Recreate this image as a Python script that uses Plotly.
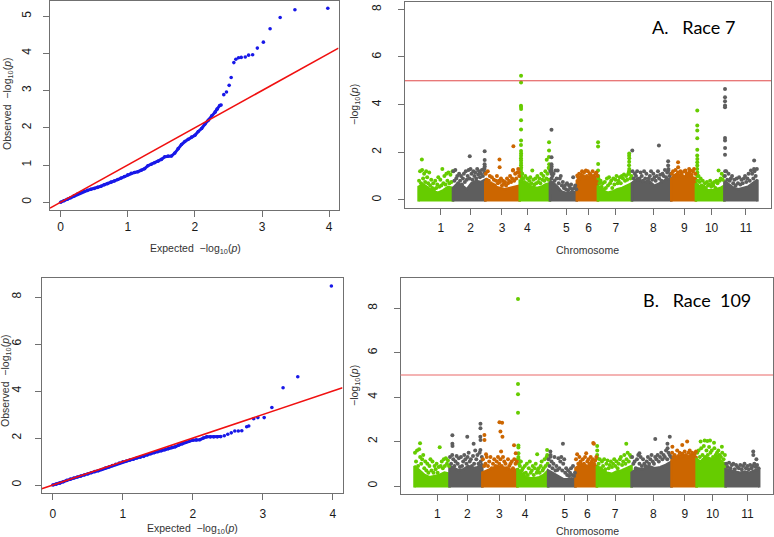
import plotly.graph_objects as go

W, H = 774, 537

# ---------------- QQ plot data (expected vs observed -log10 p) ----------------
qqA_exp = [0.0, 0.05, 0.1, 0.15, 0.2, 0.25, 0.3, 0.35, 0.4, 0.45, 0.5, 0.55, 0.6, 0.65, 0.7,
           0.75, 0.8, 0.85, 0.9, 0.95, 1.0, 1.05, 1.1, 1.15, 1.2, 1.25, 1.3, 1.35, 1.4, 1.45,
           1.5, 1.55, 1.6, 1.65, 1.7, 1.75, 1.8, 1.85, 1.9, 1.95, 2.0, 2.05, 2.1, 2.15, 2.2,
           2.25, 2.3, 2.33, 2.37, 2.39,
           2.43, 2.47, 2.51, 2.54, 2.58, 2.61, 2.65, 2.69, 2.75, 2.80, 2.86, 2.93, 3.02, 3.12,
           3.27, 3.49, 3.98]
qqA_obs = [0.0, 0.04, 0.08, 0.12, 0.17, 0.22, 0.26, 0.3, 0.32, 0.35, 0.37, 0.4, 0.43, 0.47, 0.5,
           0.54, 0.57, 0.61, 0.65, 0.69, 0.74, 0.78, 0.8, 0.82, 0.86, 0.9, 0.98, 1.02, 1.06, 1.1,
           1.15, 1.22, 1.24, 1.24, 1.32, 1.44, 1.55, 1.63, 1.69, 1.75, 1.8, 1.9, 1.98, 2.1, 2.2,
           2.32, 2.42, 2.5, 2.6, 2.61,
           2.89, 2.96, 3.14, 3.35, 3.75, 3.84, 3.88, 3.89, 3.9, 3.95, 3.96, 4.14, 4.30, 4.66,
           4.96, 5.17, 5.21]

qqB_exp = [0.0, 0.05, 0.1, 0.15, 0.2, 0.25, 0.3, 0.35, 0.4, 0.45, 0.5, 0.55, 0.6, 0.65, 0.7,
           0.75, 0.8, 0.85, 0.9, 0.95, 1.0, 1.05, 1.1, 1.15, 1.2, 1.25, 1.3, 1.35, 1.4, 1.45,
           1.5, 1.55, 1.6, 1.65, 1.7, 1.75, 1.8, 1.85, 1.9, 1.95, 2.0, 2.05, 2.1, 2.15, 2.2,
           2.25, 2.3, 2.35, 2.4, 2.45,
           2.5, 2.55, 2.6, 2.65, 2.7, 2.77, 2.80, 2.87, 2.93, 3.02, 3.13, 3.29, 3.50, 3.98]
qqB_obs = [0.0, 0.04, 0.08, 0.14, 0.2, 0.25, 0.3, 0.34, 0.38, 0.43, 0.47, 0.52, 0.57, 0.61, 0.66,
           0.72, 0.77, 0.83, 0.88, 0.94, 0.99, 1.02, 1.06, 1.1, 1.15, 1.18, 1.22, 1.28, 1.33, 1.38,
           1.42, 1.46, 1.5, 1.55, 1.6, 1.63, 1.7, 1.76, 1.82, 1.87, 1.91, 1.92, 1.93, 2.0, 2.05,
           2.05, 2.05, 2.05, 2.06, 2.1,
           2.16, 2.22, 2.3, 2.3, 2.31, 2.48, 2.51, 2.82, 2.87, 2.87, 3.30, 4.14, 4.61, 8.47]
qq_dense_limit = 2.4   # expected value up to which points overlap into a solid line

# ---------------- Manhattan data ----------------
chrom_names = ["1", "2", "3", "4", "5", "6", "7", "8", "9", "10", "11"]
chrom_len = [52.2, 49.0, 52.3, 45.8, 40.8, 32.0, 51.7, 59.6, 37.4, 43.2, 50.2]   # Mb
tick_pos = [34.0, 78.9, 126.6, 165.1, 224.4, 257.9, 299.3, 356.4, 403.2, 444.6, 496.8]  # cumulative Mb
threshold = 5

# Race 7: top of the dense SNP cloud along each chromosome, scattered SNPs (left->right) and peaks
cloudA = [
    [0.55, 0.65, 0.5, 0.35, 0.3, 0.4, 0.55, 0.5],
    [0.5, 0.7, 0.6, 0.45, 0.7, 0.8, 0.75, 0.85],
    [0.8, 0.65, 0.55, 0.5, 0.45, 0.5, 0.55, 0.6],
    [0.8, 0.75, 0.6, 0.55, 0.5, 0.55, 0.65, 0.7],
    [0.8, 0.7, 0.55, 0.35, 0.3, 0.3, 0.35, 0.3],
    [0.8, 0.95, 1.0, 0.9, 0.95, 1.0, 0.9, 0.85],
    [0.6, 0.4, 0.3, 0.35, 0.45, 0.5, 0.6, 0.7],
    [0.7, 0.9, 0.75, 0.8, 0.6, 0.7, 0.85, 0.9],
    [0.9, 1.05, 1.1, 0.95, 1.0, 1.1, 0.95, 0.9],
    [0.7, 0.55, 0.45, 0.4, 0.4, 0.45, 0.5, 0.6],
    [0.8, 0.65, 0.5, 0.45, 0.5, 0.55, 0.7, 0.85],
]
bgA = [
    [0.8, 1.2, 0.7, 1.25, 0.9, 1.1, 0.75, 1.2, 0.95, 0.7, 1.15, 0.6, 0.85, 0.5, 0.7, 0.45, 0.8, 0.5, 0.65, 0.95, 0.55, 0.85, 0.6, 1.3, 0.7, 1.0, 0.65, 1.1, 0.8, 1.15, 0.7, 1.05, 0.75, 1.2],
    [1.2, 0.8, 1.25, 0.9, 1.0, 0.7, 1.1, 0.8, 1.0, 0.65, 0.9, 1.1, 0.75, 1.2, 0.85, 1.0, 1.25, 0.9, 1.3, 1.1, 0.85, 1.2, 1.0, 1.15, 0.9, 1.3, 1.05, 1.2, 0.95, 1.1, 1.25, 1.0, 1.3, 1.15],
    [1.1, 0.85, 1.2, 0.8, 1.0, 0.7, 0.95, 0.65, 0.85, 0.6, 0.8, 1.0, 0.7, 0.8, 0.75, 0.9, 0.6, 0.8, 0.7, 0.75, 0.6, 0.9, 0.7, 0.8, 1.0, 0.75, 0.9, 1.25, 0.8, 1.1, 0.9, 1.15, 1.3, 1.0],
    [1.0, 0.8, 1.1, 0.9, 0.75, 1.0, 0.7, 0.9, 0.65, 0.8, 0.95, 0.7, 1.23, 0.85, 0.65, 0.9, 0.7, 1.0, 0.75, 0.9, 0.7, 1.1, 0.85, 1.0, 0.8, 1.2, 0.9, 1.1, 0.85, 1.3],
    [1.2, 0.9, 1.0, 1.1, 0.8, 1.23, 0.9, 1.23, 0.7, 0.9, 1.0, 0.6, 0.75, 0.5, 0.6, 0.45, 0.7, 0.4, 0.6, 0.5, 0.65, 0.45, 0.95, 0.5, 0.6, 0.45],
    [1.02, 0.95, 1.1, 0.9, 1.05, 1.2, 1.0, 1.15, 0.95, 1.23, 1.0, 1.2, 0.95, 1.1, 1.05, 0.97, 1.2, 1.0, 0.95, 1.1, 1.15, 1.0],
    [0.9, 0.7, 0.8, 0.55, 0.7, 0.45, 0.75, 0.5, 0.9, 0.6, 0.95, 0.7, 0.8, 0.5, 0.9, 0.65, 0.85, 1.0, 0.7, 0.8, 0.95, 0.7, 1.0, 0.9, 1.07, 0.8, 1.0, 0.85, 1.1, 1.2, 0.9, 1.0],
    [1.2, 0.9, 1.1, 1.0, 1.2, 0.85, 0.9, 1.15, 1.0, 0.8, 1.2, 0.9, 1.1, 0.75, 0.9, 1.0, 1.2, 0.85, 1.1, 0.95, 0.8, 1.0, 1.2, 0.9, 1.05, 0.8, 1.1, 1.0, 1.25, 0.95, 1.15, 1.3, 1.0, 1.1],
    [1.1, 1.2, 1.0, 1.25, 1.05, 1.15, 1.0, 1.2, 1.1, 0.98, 1.2, 1.23, 1.1, 1.0, 1.15, 1.23, 1.05, 1.2, 1.3, 1.1],
    [1.1, 0.8, 1.0, 0.75, 0.9, 0.6, 0.8, 0.55, 0.7, 0.5, 0.75, 0.6, 0.65, 0.8, 0.55, 0.7, 0.6, 0.75, 0.5, 0.8, 0.7, 1.23, 0.8, 0.9, 1.1, 0.85, 1.0],
    [1.0, 1.2, 0.85, 1.1, 0.8, 0.9, 1.0, 0.7, 0.85, 0.6, 0.9, 0.7, 0.95, 0.65, 0.85, 0.7, 0.9, 1.0, 0.75, 0.9, 1.1, 0.8, 1.23, 1.1, 0.9, 1.2, 1.0, 1.3],
]
peakA_chr = [1,
             2, 2, 2, 2, 2, 2,
             3, 3, 3, 3, 3,
             4, 4, 4, 4, 4, 4, 4, 4, 4, 4, 4, 4, 4, 4, 4, 4, 4, 4, 4, 4, 4,
             4, 4, 4, 4, 4, 4,
             5, 5, 5, 5, 5, 5, 5,
             7, 7, 7, 7, 7, 7, 7, 7, 7, 7, 7, 7, 7,
             8, 8, 8, 8, 8,
             9, 9, 9,
             10, 10, 10, 10, 10, 10, 10, 10, 10, 10, 10, 10,
             11, 11, 11, 11, 11, 11, 11, 11, 11, 11, 11, 11]
peakA_pos = [5.0,
             25.5, 48.1, 48.1, 48.0, 48.2, 47.9,
             21.6, 21.8, 42.7, 42.0, 50.8,
             2.0, 2.0, 1.9, 2.0, 2.1, 2.0, 2.0, 2.0, 1.9, 2.0, 2.1, 2.0, 1.9, 2.0, 2.1, 2.0, 2.2, 1.9, 2.3, 2.0, 2.4,
             41.0, 44.5, 44.5, 44.3, 44.6, 44.0,
             2.4, 2.5, 2.4, 2.6, 2.4, 2.5, 2.3,
             0.3, 0.3, 0.4, 0.3, 0.5, 47.5, 47.4, 47.6, 47.5, 47.3, 47.6, 47.5, 47.2,
             0.5, 40.9, 54.9, 54.9, 55.1,
             10.4, 10.5, 27.1,
             2.1, 2.1, 2.1, 2.1, 2.1, 2.0, 2.2, 2.1, 2.1, 2.0, 2.2, 2.1,
             1.0, 1.0, 1.0, 1.0, 1.0, 1.0, 1.0, 1.1, 1.0, 1.2, 45.2, 45.0]
peakA_val = [1.69,
             1.83, 2.04, 1.67, 1.5, 1.4, 1.3,
             1.69, 1.37, 2.25, 1.23, 1.16,
             5.21, 4.93, 3.95, 3.9, 3.82, 3.34, 2.95, 2.49, 2.3, 2.05, 1.95, 1.85, 1.75, 1.65, 1.55, 1.45, 1.35, 1.25, 1.15, 1.05, 0.95,
             1.68, 2.42, 2.07, 1.8, 1.5, 1.35,
             2.94, 1.79, 1.5, 1.4, 1.3, 1.2, 1.1,
             2.42, 2.24, 1.51, 1.23, 1.0, 1.95, 1.85, 1.75, 1.6, 1.45, 1.3, 1.2, 1.1,
             2.07, 2.28, 1.62, 1.44, 1.23,
             1.58, 1.37, 1.3,
             3.75, 3.12, 2.91, 2.59, 2.1, 1.86, 1.72, 1.58, 1.44, 1.3, 1.15, 1.0,
             4.66, 4.31, 4.14, 3.96, 3.89, 2.60, 2.49, 2.18, 1.89, 1.2, 1.65, 1.3]

# Race 109
cloudB = [
    [0.9, 0.7, 0.5, 0.4, 0.45, 0.5, 0.6, 0.55],
    [0.9, 0.8, 0.7, 0.75, 0.9, 0.8, 0.85, 1.0],
    [0.6, 0.7, 0.8, 0.9, 0.85, 0.8, 0.7, 0.75],
    [0.8, 0.55, 0.4, 0.35, 0.35, 0.4, 0.5, 0.7],
    [0.7, 0.6, 0.5, 0.4, 0.3, 0.3, 0.35, 0.3],
    [0.8, 0.9, 1.0, 0.95, 0.9, 1.0, 0.95, 0.9],
    [0.9, 0.75, 0.6, 0.55, 0.65, 0.7, 0.8, 0.9],
    [0.6, 0.8, 0.75, 0.9, 0.8, 0.85, 0.95, 1.1],
    [1.2, 1.3, 1.35, 1.4, 1.3, 1.35, 1.4, 1.3],
    [1.2, 1.1, 1.3, 1.25, 1.2, 1.35, 1.1, 1.0],
    [0.75, 0.7, 0.65, 0.6, 0.65, 0.6, 0.7, 0.75],
]
bgB = [
    [1.5, 1.1, 1.6, 0.9, 1.65, 1.3, 1.0, 1.2, 1.4, 0.8, 1.1, 0.7, 1.0, 0.6, 0.9, 1.2, 0.7, 1.1, 0.6, 0.9, 0.75, 1.0, 0.6, 0.85, 1.74, 0.9, 1.1, 0.8, 1.2, 0.9, 1.25, 1.0, 1.15, 0.9],
    [1.3, 1.0, 1.4, 1.2, 0.9, 1.1, 1.35, 1.0, 1.25, 0.85, 1.3, 0.9, 1.1, 1.4, 1.2, 1.0, 1.3, 1.5, 1.1, 1.2, 0.9, 1.35, 1.0, 1.6, 1.2, 1.4, 1.0, 1.5, 1.1, 1.3],
    [1.2, 0.9, 1.0, 1.3, 0.9, 1.1, 1.3, 0.8, 1.0, 1.2, 0.9, 1.1, 1.3, 1.0, 1.2, 0.9, 1.3, 1.1, 1.0, 0.8, 1.2, 0.9, 1.0, 1.1, 0.8, 1.2, 1.0, 1.1],
    [1.2, 1.0, 0.9, 1.1, 0.7, 0.8, 0.55, 0.9, 0.6, 1.0, 0.5, 0.8, 1.1, 0.6, 0.7, 0.9, 0.5, 0.8, 1.0, 0.6, 0.7, 0.8, 0.6, 0.9, 1.1, 0.7, 0.8, 1.2, 0.9, 1.3, 1.0],
    [1.2, 0.9, 1.4, 1.1, 0.8, 1.0, 1.3, 0.7, 0.9, 0.72, 1.25, 0.8, 1.1, 1.3, 0.7, 1.0, 1.2, 0.6, 0.8, 0.5, 0.7, 0.45, 0.6, 0.8, 0.5, 0.9, 0.45, 0.6],
    [1.2, 1.43, 1.0, 1.3, 1.1, 0.95, 1.2, 1.0, 1.3, 1.47, 1.1, 1.2, 1.0, 1.3, 1.1, 1.2, 1.0, 1.15, 1.3],
    [1.25, 1.0, 1.2, 0.8, 1.1, 0.9, 1.2, 0.75, 1.0, 1.15, 0.8, 0.95, 1.1, 0.85, 1.0, 1.2, 0.9, 1.1, 0.8, 1.0, 1.2, 1.3, 0.95, 1.1, 1.4, 1.0, 1.2, 1.5, 1.1, 1.4, 1.3],
    [1.3, 1.0, 1.1, 0.8, 1.2, 1.4, 1.0, 1.3, 0.9, 1.2, 1.0, 0.9, 1.1, 1.3, 1.0, 1.2, 1.4, 1.1, 1.0, 1.3, 1.2, 1.4, 1.1, 1.3, 1.5, 1.2, 1.4, 1.3, 1.6, 1.2, 1.5, 1.4, 1.3],
    [1.5, 1.3, 1.4, 1.25, 1.6, 1.35, 1.5, 1.3, 1.45, 1.35, 1.55, 1.4, 1.3, 1.5, 1.6, 1.4, 1.5, 1.35, 1.45, 1.55],
    [1.5, 1.6, 1.3, 1.7, 1.4, 1.8, 1.3, 1.6, 1.4, 1.75, 1.5, 1.6, 1.3, 1.7, 1.4, 1.5, 1.6, 1.4, 1.3, 1.5, 1.2, 1.4],
    [1.0, 0.85, 1.05, 0.8, 0.95, 1.0, 0.75, 0.95, 0.85, 0.8, 0.95, 0.75, 0.9, 1.0, 0.8, 0.9, 0.75, 0.95, 0.8, 0.9, 1.0, 0.85, 0.95, 0.8],
]
peakB_chr = [1,
             2, 2, 2, 2, 2, 2, 2, 2, 2, 2,
             3, 3, 3, 3, 3, 3, 3, 3, 3, 3,
             4, 4, 4, 4, 4, 4, 4, 4, 4, 4, 4, 4,
             5, 5, 5,
             6, 6,
             7, 7, 7, 7,
             8, 8, 8, 8, 8,
             9, 9, 9,
             10, 10, 10, 10, 10, 10,
             11, 11, 11]
peakB_pos = [8.3,
             4.3, 4.3, 4.5, 26.5, 36.0, 46.2, 46.2, 46.0, 46.3, 46.1,
             3.1, 3.2, 5.5, 25.5, 29.5, 27.0, 30.0, 28.0, 47.3, 49.8,
             0.9, 0.9, 0.9, 0.9, 1.5, 1.5, 1.6, 1.5, 1.6, 29.5, 44.3, 44.5,
             3.4, 3.5, 22.1,
             26.5, 27.5,
             0.4, 0.5, 0.4, 43.8,
             11.7, 35.3, 53.5, 53.7, 57.0,
             1.3, 16.0, 23.3,
             6.0, 12.0, 16.0, 20.0, 26.0, 37.7,
             41.3, 41.4, 46.0]
peakB_val = [1.92,
             2.28, 1.9, 1.8, 2.22, 1.9, 2.8, 2.6, 2.22, 2.07, 1.62,
             2.3, 2.07, 1.43, 2.87, 2.85, 2.45, 2.22, 1.55, 1.83, 1.47,
             8.41, 4.59, 4.13, 3.30, 1.82, 1.73, 1.47, 1.3, 1.2, 1.43, 1.62, 1.4,
             1.55, 1.32, 1.9,
             1.94, 1.9,
             1.8, 1.6, 1.4, 1.9,
             1.47, 2.12, 1.9, 1.7, 2.22,
             1.77, 1.85, 2.0,
             2.0, 2.05, 2.02, 2.05, 1.95, 1.77,
             1.55, 1.4, 1.2]

# ---------------- styling ----------------
COLS = ["#66CC00", "#5E5E5E", "#CC6600"]
BLUE = "#1818E8"
QQRED = "#F01010"
FONT = "Liberation Sans, Arial, sans-serif"
AXC = "#707070"

starts = []
acc = 0.0
for L in chrom_len:
    starts.append(acc)
    acc += L
total_len = acc


def r_range(lo, hi):
    pad = 0.04 * (hi - lo)
    return [lo - pad, hi + pad]


def dom_x(a, b):
    return [a / W, b / W]


def dom_y(top, bottom):
    return [1 - bottom / H, 1 - top / H]


fig = go.Figure()


def add_qq(exp, obs, xa, ya):
    dense_x = [e for e in exp if e <= qq_dense_limit]
    dense_y = [o for e, o in zip(exp, obs) if e <= qq_dense_limit]
    fig.add_trace(go.Scatter(x=dense_x, y=dense_y, mode="lines", xaxis=xa, yaxis=ya,
                             line=dict(color=BLUE, width=3), hoverinfo="skip", showlegend=False))
    fig.add_trace(go.Scatter(x=exp, y=obs, mode="markers", xaxis=xa, yaxis=ya,
                             marker=dict(color=BLUE, size=3.6, line=dict(width=0)),
                             showlegend=False))
    xr = r_range(0, max(exp))
    fig.add_trace(go.Scatter(x=xr, y=xr, mode="lines", xaxis=xa, yaxis=ya,
                             line=dict(color=QQRED, width=1.6), hoverinfo="skip", showlegend=False))


def add_manhattan(cloud, bg, pchr, ppos, pval, xa, ya):
    pts = {0: ([], []), 1: ([], []), 2: ([], [])}
    base = -0.07
    for k in range(len(chrom_len)):
        c = k % 3
        s, L = starts[k], chrom_len[k]
        prof = cloud[k]
        m = len(prof)
        px = [s] + [s + j / (m - 1) * L for j in range(m)] + [s + L]
        py = [base] + list(prof) + [base]
        fig.add_trace(go.Scatter(x=px, y=py, mode="lines", fill="toself", fillcolor=COLS[c],
                                 line=dict(width=2.5, color=COLS[c]), xaxis=xa, yaxis=ya,
                                 hoverinfo="skip", showlegend=False))
        vals = bg[k]
        n = len(vals)
        for i, v in enumerate(vals):
            pts[c][0].append(s + (i + 0.5) / n * L)
            pts[c][1].append(v)
    for ch, p, v in zip(pchr, ppos, pval):
        k = ch - 1
        pts[k % 3][0].append(starts[k] + p)
        pts[k % 3][1].append(v)
    for c in range(3):
        fig.add_trace(go.Scatter(x=pts[c][0], y=pts[c][1], mode="markers", xaxis=xa, yaxis=ya,
                                 marker=dict(color=COLS[c], size=4, line=dict(width=0)),
                                 showlegend=False))


add_qq(qqA_exp, qqA_obs, "x", "y")
add_manhattan(cloudA, bgA, peakA_chr, peakA_pos, peakA_val, "x2", "y2")
add_qq(qqB_exp, qqB_obs, "x3", "y3")
add_manhattan(cloudB, bgB, peakB_chr, peakB_pos, peakB_val, "x4", "y4")

tickfont = dict(family=FONT, size=12, color="#1a1a1a")
common = dict(showline=True, mirror=True, linecolor=AXC, linewidth=1, showgrid=False,
              zeroline=False, ticks="outside", ticklen=6, tickcolor=AXC, tickwidth=1,
              tickfont=tickfont, fixedrange=True)

man_x_range = r_range(0, total_len)

fig.update_layout(
    width=W, height=H, margin=dict(l=0, r=0, t=0, b=0),
    paper_bgcolor="white", plot_bgcolor="white", showlegend=False,
    xaxis=dict(domain=dom_x(50, 338.5), range=r_range(0, max(qqA_exp)), anchor="y",
               tickvals=[0, 1, 2, 3, 4], **common),
    yaxis=dict(domain=dom_y(0.5, 210), range=r_range(0, max(qqA_obs)), anchor="x",
               tickvals=[0, 1, 2, 3, 4, 5], tickangle=-90, ticklabelstandoff=7, **common),
    xaxis2=dict(domain=dom_x(405, 771), range=man_x_range, anchor="y2",
                tickvals=tick_pos, ticktext=chrom_names, ticklabelstandoff=3, **common),
    yaxis2=dict(domain=dom_y(1.7, 207.5), range=r_range(0, 8), anchor="x2",
                tickvals=[0, 2, 4, 6, 8], tickangle=-90, ticklabelstandoff=12, **common),
    xaxis3=dict(domain=dom_x(41.7, 342.5), range=r_range(0, max(qqB_exp)), anchor="y3",
                tickvals=[0, 1, 2, 3, 4], ticklabelstandoff=4, **common),
    yaxis3=dict(domain=dom_y(278, 493), range=r_range(0, max(qqB_obs)), anchor="x3",
                tickvals=[0, 2, 4, 6, 8], tickangle=-90, ticklabelstandoff=9, **common),
    xaxis4=dict(domain=dom_x(400.7, 773), range=man_x_range, anchor="y4",
                tickvals=tick_pos, ticktext=chrom_names, ticklabelstandoff=3, **common),
    yaxis4=dict(domain=dom_y(278, 494), range=r_range(0, 9), anchor="x4",
                tickvals=[0, 2, 4, 6, 8], tickangle=-90, ticklabelstandoff=12, **common),
)

fig.add_shape(type="line", xref="x2 domain", yref="y2", x0=0, x1=1, y0=threshold, y1=threshold,
              line=dict(color="#E04848", width=1))
fig.add_shape(type="line", xref="x4 domain", yref="y4", x0=0, x1=1, y0=threshold, y1=threshold,
              line=dict(color="#F09A9A", width=1.5))

logp = "\u2212log<sub>10</sub>(<i>p</i>)"
tfont = dict(family=FONT, size=10.5, color="#333333")


def ann(text, x, y, angle=0, font=tfont):
    fig.add_annotation(text=text, x=x / W, y=1 - y / H, xref="paper", yref="paper",
                       showarrow=False, textangle=angle, font=font,
                       xanchor="center", yanchor="middle")


ann("Expected \u00a0" + logp, 195, 249)
ann("Observed \u00a0" + logp, 8, 104, -90)
ann("Chromosome", 587, 250)
ann(logp, 355, 105, -90)
ann("Expected \u00a0" + logp, 192, 529)
ann("Observed \u00a0" + logp, 6, 381, -90)
ann("Chromosome", 587, 531)
ann(logp, 355, 386, -90)

lfont = dict(family="Lato, Open Sans, sans-serif", size=18, color="black")
ann("A.\u00a0\u00a0\u00a0Race 7", 693, 27, font=lfont)
ann("B.\u00a0\u00a0\u00a0Race\u00a0\u00a0109", 697, 300, font=lfont)

fig.write_html("out.html", config={"displayModeBar": False},
               post_script="document.body.style.margin='0';document.body.style.overflow='hidden';")
